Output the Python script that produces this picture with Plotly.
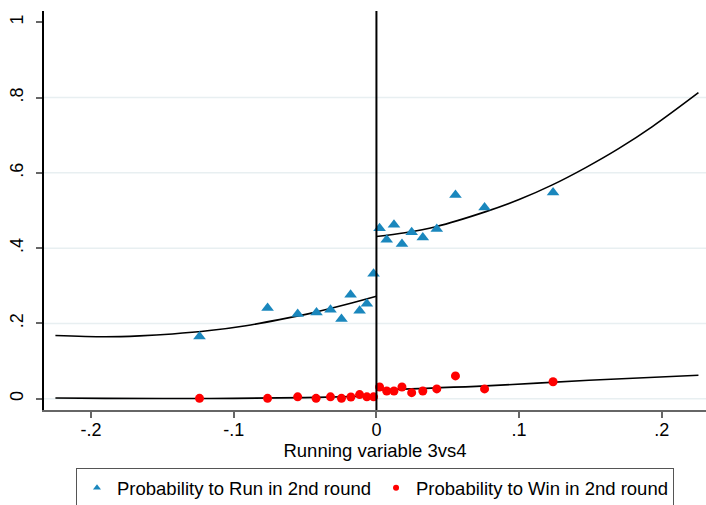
import plotly.graph_objects as go

# ---- data ----
run_x = [-0.124, -0.0763, -0.0552, -0.042, -0.0322, -0.0245, -0.0181, -0.0118, -0.0067, -0.002,
         0.0022, 0.0072, 0.0123, 0.0179, 0.0247, 0.0325, 0.0423, 0.0554, 0.0758, 0.1238]
run_y = [0.165, 0.241, 0.225, 0.229, 0.236, 0.212, 0.2765, 0.234, 0.252, 0.332,
         0.453, 0.422, 0.462, 0.411, 0.442, 0.4285, 0.451, 0.541, 0.508, 0.548]

win_x = [-0.124, -0.0763, -0.0552, -0.0423, -0.0322, -0.0245, -0.0179, -0.0118, -0.0067, -0.002,
         0.0022, 0.0072, 0.0123, 0.0179, 0.0247, 0.0325, 0.0423, 0.0554, 0.0758, 0.1238]
win_y = [0.001, 0.001, 0.005, 0.001, 0.005, 0.001, 0.0045, 0.011, 0.005, 0.005,
         0.031, 0.0205, 0.0205, 0.031, 0.016, 0.0205, 0.026, 0.0605, 0.026, 0.045]

# fitted curves
fit_run_left_x = [-0.225, -0.19, -0.166, -0.143, -0.117, -0.0915, -0.068, -0.0448, -0.0214, 0.0]
fit_run_left_y = [0.168, 0.1647, 0.167, 0.172, 0.181, 0.194, 0.210, 0.228, 0.250, 0.272]
fit_run_right_x = [0.0, 0.02, 0.0416, 0.0767, 0.1, 0.1233, 0.1467, 0.17, 0.1934, 0.2257]
fit_run_right_y = [0.431, 0.441, 0.457, 0.497, 0.529, 0.568, 0.614, 0.665, 0.723, 0.813]
fit_win_left_x = [-0.225, -0.19, -0.15, -0.1, -0.05, 0.0]
fit_win_left_y = [0.002, 0.001, 0.0005, 0.001, 0.003, 0.007]
fit_win_right_x = [0.0, 0.0767, 0.149, 0.2257]
fit_win_right_y = [0.023, 0.034, 0.049, 0.0624]

y_ticks = [0, 0.2, 0.4, 0.6, 0.8, 1]
y_tick_text = ["0", ".2", ".4", ".6", ".8", "1"]
x_ticks = [-0.2, -0.1, 0, 0.1, 0.2]
x_tick_text = ["-.2", "-.1", "0", ".1", ".2"]
grid_vals = [0, 0.2, 0.4, 0.6, 0.8]

BLUE = "#1a87bd"
RED = "#ff0000"
FONT = "Liberation Sans, Arial, sans-serif"

fig = go.Figure()

# fitted lines
for fx, fy in [(fit_run_left_x, fit_run_left_y), (fit_run_right_x, fit_run_right_y),
               (fit_win_left_x, fit_win_left_y), (fit_win_right_x, fit_win_right_y)]:
    fig.add_trace(go.Scatter(x=fx, y=fy, mode="lines", line=dict(color="black", width=1.6, shape="spline"),
                             showlegend=False, hoverinfo="skip"))

fig.add_trace(go.Scatter(x=run_x, y=run_y, mode="markers",
                         marker=dict(symbol="triangle-up", size=11, color=BLUE),
                         showlegend=False))
fig.add_trace(go.Scatter(x=win_x, y=win_y, mode="markers",
                         marker=dict(symbol="circle", size=9, color=RED),
                         showlegend=False))

# legend entries with smaller markers
fig.add_trace(go.Scatter(x=[None], y=[None], mode="markers", name="Probability to Run in 2nd round",
                         marker=dict(symbol="triangle-up", size=7, color=BLUE)))
fig.add_trace(go.Scatter(x=[None], y=[None], mode="markers", name="Probability to Win in 2nd round",
                         marker=dict(symbol="circle", size=6, color=RED)))

shapes = []
for g in grid_vals:
    shapes.append(dict(type="line", xref="paper", x0=0, x1=1, yref="y", y0=g, y1=g,
                       line=dict(color="#e8eff1", width=1.5), layer="below"))
shapes.append(dict(type="line", xref="x", x0=0, x1=0, yref="paper", y0=0, y1=1,
                   line=dict(color="black", width=2)))
fig.update_layout(shapes=shapes)

fig.update_layout(
    width=706, height=505,
    margin=dict(l=44, r=0, t=11, b=95, autoexpand=False),
    paper_bgcolor="white", plot_bgcolor="white",
    font=dict(family=FONT, color="black", size=18),
    xaxis=dict(range=[-0.233, 0.231], tickvals=x_ticks, ticktext=x_tick_text,
               showgrid=False, zeroline=False, showline=True, linecolor="#666666", linewidth=1.5,
               ticks="outside", ticklen=6, tickcolor="#666666", tickwidth=1.5,
               tickfont=dict(size=18), automargin=False, ticklabelstandoff=-3,
               title=dict(text="Running variable 3vs4", font=dict(size=18.5), standoff=0)),
    yaxis=dict(range=[-0.03, 1.03], tickvals=y_ticks, ticktext=y_tick_text,
               showgrid=False, zeroline=False, showline=True, linecolor="black", linewidth=1.5,
               ticks="outside", ticklen=6, tickcolor="#666666", tickwidth=1.5,
               tickangle=-90, tickfont=dict(size=18), automargin=False,
               ticklabelstandoff=6),
    legend=dict(orientation="h", x=0.5, xanchor="center", y=-0.146, yanchor="top",
                bordercolor="#555555", borderwidth=1, bgcolor="white",
                font=dict(size=18.5), itemwidth=30, tracegroupgap=0),
)

fig.write_html("out.html", config={"displayModeBar": False},
               post_script="document.body.style.margin='0px';")
